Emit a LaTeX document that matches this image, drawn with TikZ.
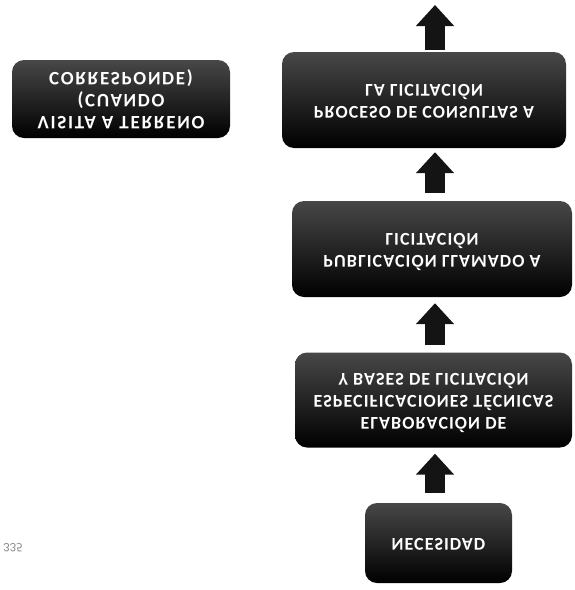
\documentclass[tikz,border=0pt]{standalone}
\usepackage{fontspec}
\setmainfont{Carlito}
\usetikzlibrary{arrows.meta}
\newcommand{\flipv}[1]{\scalebox{1}[-1]{\begin{tabular}{@{}c@{}}#1\end{tabular}}}
\tikzset{
  box/.style={rounded corners=12pt, top color=black!72, middle color=black!96, bottom color=black,
    text=white, font=\fontsize{18}{22}\selectfont\bfseries\addfontfeatures{LetterSpace=6}, inner sep=0pt, align=center},
  flow/.style={line width=20pt, -{Triangle[width=37pt,length=21pt]}, black!92},
  note/.style={text=black!45, font=\fontsize{13}{15}\selectfont, inner sep=0pt}
}
\begin{document}
\begin{tikzpicture}[x=1pt,y=-1pt]
\useasboundingbox[fill=white] (0,0) rectangle (575,590);
\node[box, minimum width=284pt, minimum height=96pt] (proc) at (424,100)
  {\flipv{PROCESO DE CONSULTAS A\\LA LICITACIÓN}};
\node[box, minimum width=280pt, minimum height=96pt] (pub) at (432,249)
  {\flipv{PUBLICACIÓN LLAMADO A\\LICITACIÓN}};
\node[box, minimum width=277pt, minimum height=95pt] (elab) at (433.5,400)
  {\flipv{ELABORACIÓN DE\\ESPECIFICACIONES TÉCNICAS\\Y BASES DE LICITACIÓN}};
\node[box, minimum width=147pt, minimum height=80pt] (nec) at (438.5,543)
  {\flipv{NECESIDAD}};
\node[box, minimum width=218pt, minimum height=78pt,
  font=\fontsize{19}{22}\selectfont\bfseries\addfontfeatures{LetterSpace=9}] (vis) at (121,99)
  {\flipv{VISITA A TERRENO\\(CUANDO\\CORRESPONDE)}};
\node[note, anchor=east] (pg) at (23,548) {\scalebox{1}[-1]{335}};
\coordinate (ax) at (435,0);
\coordinate (top) at (435,5);
\draw[flow, shorten <=2pt] (proc.north -| ax) -- (top);
\draw[flow, shorten <=8pt, shorten >=4pt] (pub.north -| ax) -- (proc.south -| ax);
\draw[flow, shorten <=7pt, shorten >=6pt] (elab.north -| ax) -- (pub.south -| ax);
\draw[flow, shorten <=10pt, shorten >=6pt] (nec.north -| ax) -- (elab.south -| ax);
\end{tikzpicture}
\end{document}
